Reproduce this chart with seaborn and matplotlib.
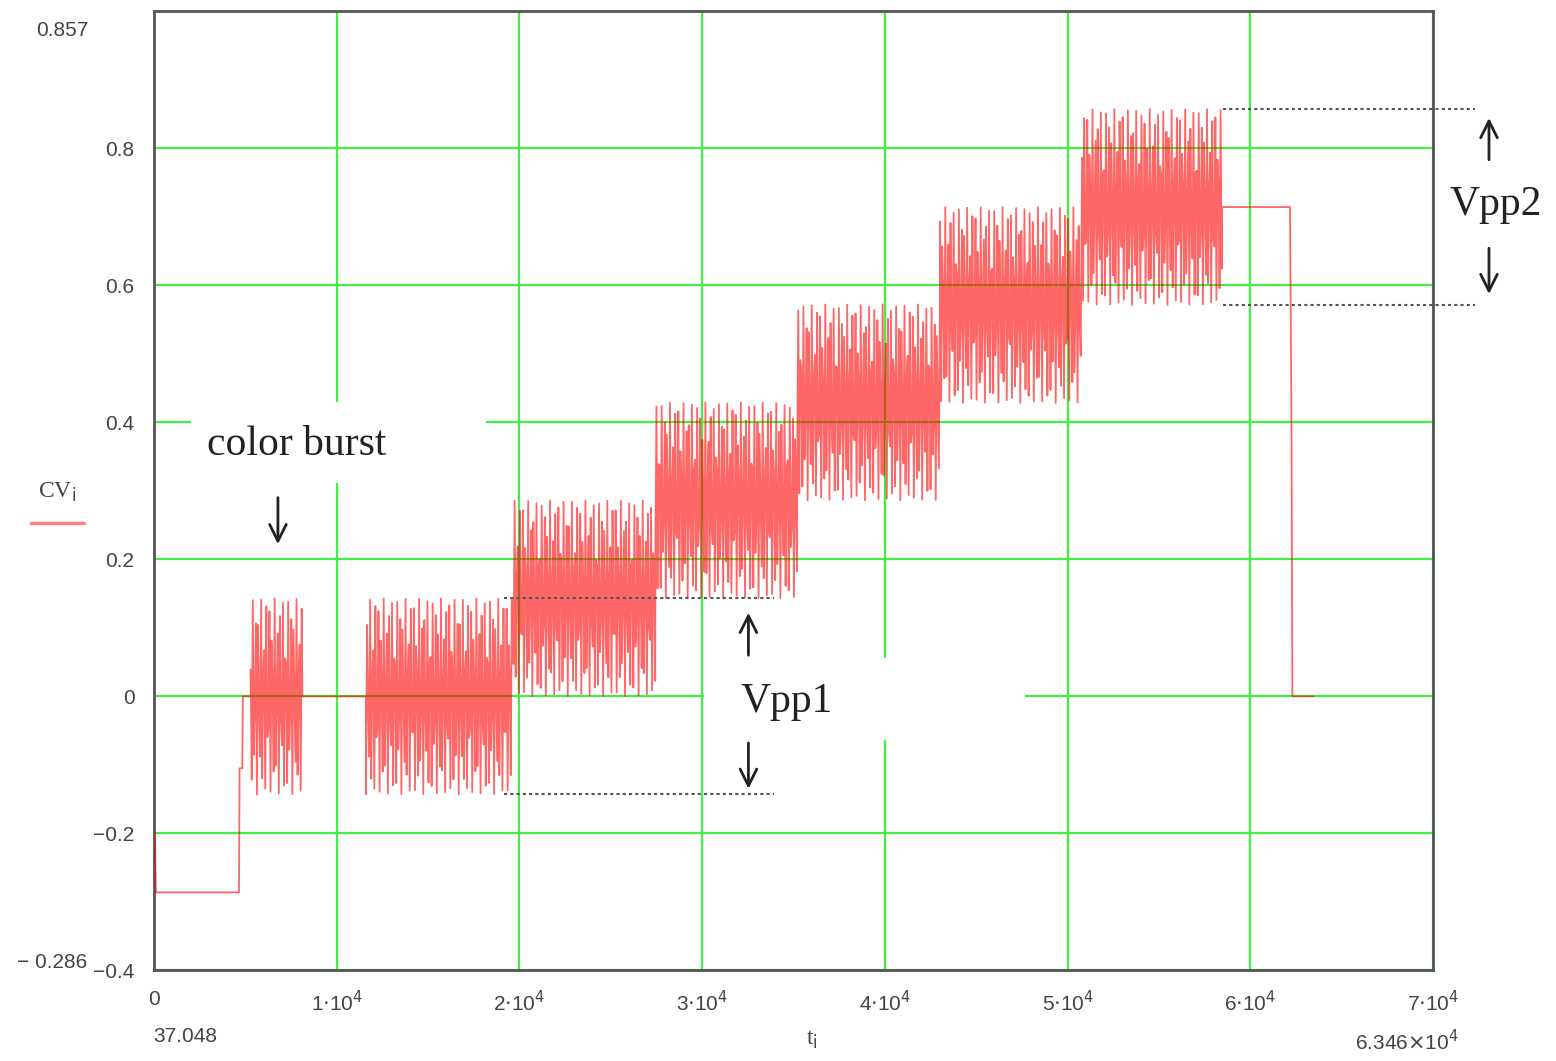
import numpy as np
import pandas as pd
import seaborn as sns
import matplotlib.pyplot as plt
from matplotlib.patches import Rectangle
from matplotlib.lines import Line2D

sns.set_style("white")
plt.rcParams["font.family"] = ["Liberation Sans", "DejaVu Sans"]

# step levels of the colour-bar signal
bar_start = [11600, 19620, 27440, 35200, 43020, 50790]
bar_end = [19620, 27440, 35200, 43020, 50790, 58450]
bar_level = [0.0, 0.143, 0.286, 0.429, 0.571, 0.714]
amp = 0.143
burst_start, burst_end = 5290, 8118
carrier_period = 149.2
dt = 57.0

# sync / back porch / tail points
head_t = [37.048, 100, 4650, 4680, 4830, 4860, 5290]
head_v = [-0.2, -0.286, -0.286, -0.105, -0.105, 0.0, 0.0]
tail_t = [58450, 62170, 62250, 62300, 63460]
tail_v = [0.714, 0.714, 0.4, 0.0, 0.0]

xticks = [0, 1e4, 2e4, 3e4, 4e4, 5e4, 6e4, 7e4]
xlabels = ["0"] + [r"%d$\cdot$10$^{4}$" % k for k in range(1, 8)]
yticks = [-0.4, -0.2, 0, 0.2, 0.4, 0.6, 0.8]
ylabels = ["−0.4", "−0.2", "0", "0.2", "0.4", "0.6", "0.8"]


def burst(t0, t1, level):
    t = np.arange(t0, t1, dt)
    return t, level + amp * np.sin(2 * np.pi * t / carrier_period)


ts, vs = [np.array(head_t)], [np.array(head_v)]
t, v = burst(burst_start, burst_end, 0.0)
ts += [t, np.array([burst_end, bar_start[0]])]
vs += [v, np.array([0.0, 0.0])]
for s, e, lv in zip(bar_start, bar_end, bar_level):
    t, v = burst(s, e, lv)
    ts.append(t)
    vs.append(v)
ts.append(np.array(tail_t))
vs.append(np.array(tail_v))
df = pd.DataFrame({"t": np.concatenate(ts), "cv": np.concatenate(vs)})

fig = plt.figure(figsize=(15.56, 10.61), dpi=100)
ax = fig.add_axes([0.099, 0.0853, 0.822, 0.9043])

sns.lineplot(data=df, x="t", y="cv", sort=False, estimator=None, ax=ax,
             color="#ff0000", alpha=0.6, lw=1.3, zorder=5)

ax.set_xlim(0, 7e4)
ax.set_ylim(-0.4, 1.0)
ax.set_xticks(xticks)
ax.set_xticklabels(xlabels)
ax.set_yticks(yticks)
ax.set_yticklabels(ylabels)
ax.tick_params(length=0, labelsize=15, labelcolor="#444444", pad=14)
ax.grid(True, color="#44ee44", lw=1.6, zorder=1)
ax.set_axisbelow(True)
for sp in ax.spines.values():
    sp.set_color("#555555")
    sp.set_linewidth(2)
ax.set_xlabel("")
ax.set_ylabel("")

# white boxes behind the annotations hide part of the grid
ax.add_patch(Rectangle((2000, 0.311), 16145, 0.118, facecolor="white",
                       edgecolor="none", zorder=2))
ax.add_patch(Rectangle((30125, -0.064), 17560, 0.120, facecolor="white",
                       edgecolor="none", zorder=2))

# dotted Vpp guide lines
dot = dict(color="#555555", ls=(0, (1.5, 1.5)), lw=1.5, zorder=6, clip_on=False)
ax.plot([19130, 33955], [0.143, 0.143], **dot)
ax.plot([19130, 33955], [-0.143, -0.143], **dot)
ax.plot([58500, 72300], [0.857, 0.857], **dot)
ax.plot([58500, 72300], [0.571, 0.571], **dot)

arrow = dict(arrowstyle="->", color="#222222", lw=2, mutation_scale=30)
for x, y0, y1 in [(6780, 0.294, 0.218), (32530, 0.056, 0.126),
                  (32530, -0.064, -0.139), (73060, 0.779, 0.848),
                  (73060, 0.658, 0.583)]:
    ax.annotate("", xy=(x, y1), xytext=(x, y0), arrowprops=arrow,
                annotation_clip=False, zorder=7)

serif = ["Liberation Serif", "DejaVu Serif"]
ax.text(7806, 0.367, "color burst", fontsize=30, family=serif,
        color="#222222", ha="center", va="center", zorder=7)
ax.text(34650, -0.008, "Vpp1", fontsize=30, family=serif,
        color="#222222", ha="center", va="center", zorder=7)
ax.text(73400, 0.717, "Vpp2", fontsize=30, family=serif,
        color="#222222", ha="center", va="center", zorder=7, clip_on=False)

# Mathcad-style range labels and axis names
W, H = 1556, 1061
fig.text(62 / W, 1 - 30 / H, "0.857", fontsize=15, color="#444444",
         ha="center", va="center")
fig.text(52 / W, 1 - 962 / H, "− 0.286", fontsize=15, color="#444444",
         ha="center", va="center")
fig.text(185 / W, 1 - 1037 / H, "37.048", fontsize=15, color="#444444",
         ha="center", va="center")
fig.text(1407 / W, 1 - 1042 / H, r"6.346$\times$10$^{4}$", fontsize=15,
         color="#444444", ha="center", va="center")
fig.text(57 / W, 1 - 492 / H, r"CV$_{\mathrm{i}}$", fontsize=17,
         family=serif, color="#444444", ha="center", va="center")
fig.add_artist(Line2D([31 / W, 84 / W], [1 - 523 / H, 1 - 523 / H],
                      color="#ff8080", lw=2.5))
fig.text(812 / W, 1 - 1040 / H, r"t$_{\mathrm{i}}$", fontsize=17,
         family=serif, color="#444444", ha="center", va="center")

fig.savefig("out.png", dpi=100)
